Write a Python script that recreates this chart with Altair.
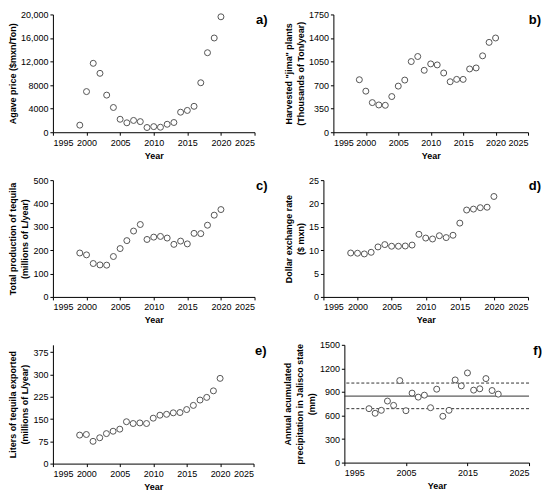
import altair as alt
import pandas as pd

years = list(range(1999, 2021))

# a) agave price ($mxn/Ton)
agave_price = [1200, 6900, 11700, 10000, 6300, 4200, 2200, 1600, 2000, 1800, 800,
               950, 850, 1350, 1650, 3400, 3700, 4400, 8400, 13500, 16000, 19600]
# b) harvested "jima" plants (thousands of Ton/year)
jima = [780, 610, 440, 405, 400, 530, 685, 775, 1050, 1125, 920,
        1015, 1000, 880, 750, 785, 785, 940, 955, 1135, 1335, 1400]
# c) total production of tequila (millions of L/year)
production = [188, 180, 143, 137, 136, 173, 207, 241, 282, 310, 246,
              256, 259, 252, 225, 239, 227, 272, 271, 307, 350, 374]
# d) dollar exchange rate ($ mxn)
exchange = [9.4, 9.35, 9.2, 9.55, 10.7, 11.2, 10.85, 10.85, 10.9, 11.1, 13.4,
            12.6, 12.4, 13.1, 12.7, 13.2, 15.8, 18.6, 18.8, 19.1, 19.2, 21.5]
# e) liters of tequila exported (millions of L/year)
exported = [96, 98, 75, 87, 101, 109, 116, 141, 135, 137, 135,
            153, 163, 166, 171, 172, 182, 196, 214, 223, 245, 287]
# f) annual accumulated precipitation in Jalisco (mm)
precip = [687, 628, 666, 784, 729, 1045, 661, 885, 834, 859, 699,
          935, 590, 666, 1053, 977, 1142, 923, 940, 1070, 918, 872]
precip_mean = [847]
precip_band = [1013, 687]

tags = ["a)", "b)", "c)", "d)", "e)", "f)"]
FONT = "Liberation Sans"


def panel(vals, title, domain, ticks, tag, w, h, label_expr=None,
          xticks=(1995, 2000, 2005, 2010, 2015, 2020, 2025), rules=None):
    src = pd.DataFrame({"Year": years, "v": vals})
    yaxis = alt.Axis(values=list(ticks), title=title, format="d")
    if label_expr:
        yaxis = alt.Axis(values=list(ticks), title=title, labelExpr=label_expr)
    x = alt.X("Year:Q", scale=alt.Scale(domain=[1995, 2025], nice=False),
              axis=alt.Axis(values=list(xticks), format="d", title="Year"))
    y = alt.Y("v:Q", scale=alt.Scale(domain=domain, nice=False), axis=yaxis)

    layers = []
    if rules is not None:
        mean_df = pd.DataFrame({"v": rules[0]})
        band_df = pd.DataFrame({"v": rules[1]})
        layers.append(alt.Chart(band_df).mark_rule(color="#333333", strokeWidth=1,
                                                   strokeDash=[3, 2]).encode(y=y))
        layers.append(alt.Chart(mean_df).mark_rule(color="#333333", strokeWidth=1).encode(y=y))

    pts = alt.Chart(src).mark_point(shape="circle", filled=True, fill="white",
                                    stroke="#555555", strokeWidth=1, size=36,
                                    opacity=1).encode(x=x, y=y)
    layers.append(pts)

    lbl = alt.Chart(pd.DataFrame({"t": [tag]})).mark_text(
        align="right", baseline="middle", font=FONT, fontSize=13, fontWeight="bold",
        color="black"
    ).encode(text="t:N", x=alt.value(w + 13), y=alt.value(6))
    layers.append(lbl)

    return alt.layer(*layers).properties(width=w, height=h)


big_fmt = "datum.value >= 10000 ? format(datum.value, ',') : format(datum.value, 'd')"

pa = panel(agave_price, "Agave price ($mxn/Ton)", [0, 20000], range(0, 20001, 4000),
           tags[0], 202, 118, label_expr=big_fmt)
pb = panel(jima, ['Harvested "jima" plants', "(Thousands of Ton/year)"], [0, 1750],
           range(0, 1751, 350), tags[1], 195, 118)
pc = panel(production, ["Total production of tequila", "(millions of L/year)"], [0, 500],
           range(0, 501, 100), tags[2], 202, 117)
pd_ = panel(exchange, ["Dollar exchange rate", "($ mxn)"], [0, 25],
            range(0, 26, 5), tags[3], 205, 117)
pe = panel(exported, ["Liters of tequila exported", "(millions of L/year)"], [0, 400],
           range(0, 376, 75), tags[4], 201, 119)
pf = panel(precip, ["Annual acumulated", "precipitation in Jalisco state", "(mm)"],
           [0, 1500], range(0, 1501, 300), tags[5], 185, 118,
           xticks=(1995, 2005, 2015, 2025), rules=(precip_mean, precip_band))

chart = alt.vconcat(
    alt.hconcat(pa, pb, spacing=16),
    alt.hconcat(pc, pd_, spacing=16),
    alt.hconcat(pe, pf, spacing=16),
    spacing=16,
).properties(
    padding={"left": 0, "top": 2, "right": 0, "bottom": 0}
).configure_view(
    stroke=None
).configure_axis(
    grid=False,
    domainColor="black",
    domainWidth=1,
    tickColor="black",
    tickSize=3,
    labelFont=FONT,
    labelFontSize=9,
    labelColor="black",
    labelPadding=2,
    titleFont=FONT,
    titleFontSize=9,
    titleFontWeight="bold",
    titleColor="black",
    titlePadding=3,
    titleLineHeight=12,
).configure_axisX(
    labelPadding=3,
    titlePadding=4,
)

chart.save("out.html", embed_options={"renderer": "svg", "actions": False})
